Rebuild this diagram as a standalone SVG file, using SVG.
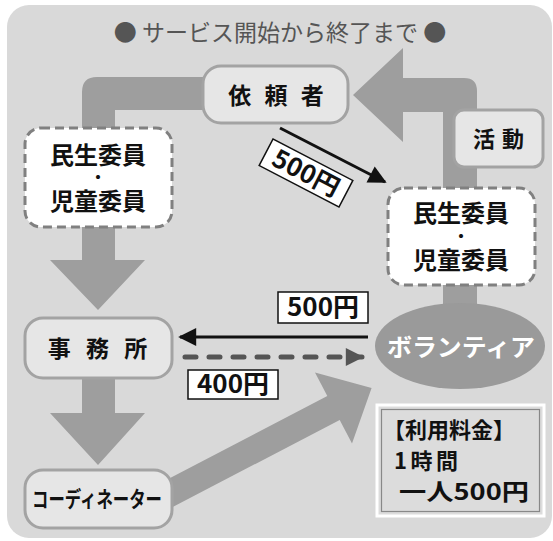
<svg xmlns="http://www.w3.org/2000/svg" width="553" height="541" viewBox="0 0 553 541">
<defs>
<style>
.t{font-family:"Noto Sans CJK JP","Noto Sans",sans-serif;font-weight:bold;fill:#111;}
.node{fill:#e6e6e6;stroke:#a3a3a3;stroke-width:3;}
.dash{fill:#ffffff;stroke:#808080;stroke-width:3;stroke-dasharray:9 5;}
.band{fill:#9e9e9e;}
.lbl{fill:#ffffff;stroke:#111;stroke-width:1.5;}
</style>
<marker id="ahb" viewBox="0 0 10 10" refX="9" refY="5" markerWidth="7" markerHeight="6" markerUnits="strokeWidth" orient="auto"><path d="M0,0 L10,5 L0,10 Z" fill="#111"/></marker>
<marker id="ahg" viewBox="0 0 10 10" refX="9" refY="5" markerWidth="4.4" markerHeight="3.6" markerUnits="strokeWidth" orient="auto"><path d="M0,0 L10,5 L0,10 Z" fill="#555"/></marker>
</defs>
<rect x="7" y="5" width="545" height="533" rx="22" fill="#d9d9d9"/>
<text x="280" y="41" text-anchor="middle" style="font-family:'Noto Sans CJK JP','Noto Sans',sans-serif;font-size:23px;fill:#555;">● サービス開始から終了まで ●</text>
<g id="connectors">
<path class="band" d="M215,77 H97 Q82,77 82,92 V140 H115 V110 H215 Z"/>
<path class="band" d="M353,95 L403,48 L403,78 H464 Q477,78 477,91 V320 H443 V112 H403 V142 Z"/>
<path class="band" d="M82,220 H115 V260 H145 L98,310 L50,260 H82 Z"/>
<path class="band" d="M82,375 H115 V413 H145 L98,465 L50,413 H82 Z"/>
<path class="band" d="M153.8,486.4 L327.3,396 L315,372.5 L371.6,388.1 L352,443.5 L339.7,420 L166.2,510.4 Z"/>
<line x1="280" y1="128" x2="385" y2="182" stroke="#111" stroke-width="3" marker-end="url(#ahb)"/>
<line x1="368" y1="337" x2="180" y2="337" stroke="#111" stroke-width="3" marker-end="url(#ahb)"/>
<line x1="185" y1="357" x2="362" y2="357" stroke="#555" stroke-width="5" stroke-linecap="round" stroke-dasharray="11 13" marker-end="url(#ahg)"/>
</g>
<g id="irainin">
<rect class="node" x="203" y="66" width="145" height="57" rx="18"/>
<text class="t" x="278" y="104" text-anchor="middle" font-size="23" letter-spacing="4">依 頼 者</text>
</g>
<g id="katsudo">
<rect class="node" x="454" y="110" width="89" height="57" rx="10"/>
<text class="t" x="499" y="147" text-anchor="middle" font-size="22" letter-spacing="1">活 動</text>
</g>
<g id="minsei-left">
<rect class="dash" x="25" y="128" width="147" height="99" rx="16"/>
<text class="t" x="98" y="164" text-anchor="middle" font-size="24">民生委員</text>
<text class="t" x="98" y="183" text-anchor="middle" font-size="16">・</text>
<text class="t" x="98" y="210" text-anchor="middle" font-size="24">児童委員</text>
</g>
<g id="minsei-right">
<rect class="dash" x="388" y="188" width="147" height="97" rx="16"/>
<text class="t" x="461" y="222" text-anchor="middle" font-size="24">民生委員</text>
<text class="t" x="461" y="242" text-anchor="middle" font-size="16">・</text>
<text class="t" x="461" y="269" text-anchor="middle" font-size="24">児童委員</text>
</g>
<g id="label500a">
<g transform="translate(306,173) rotate(27.5)">
<rect class="lbl" x="-45" y="-15" width="90" height="30"/>
<text class="t" x="0" y="9" text-anchor="middle" font-size="25" textLength="72" lengthAdjust="spacingAndGlyphs">500円</text>
</g>
</g>
<g id="jimusho">
<rect class="node" x="25" y="318" width="147" height="60" rx="18"/>
<text class="t" x="100" y="357" text-anchor="middle" font-size="23" letter-spacing="5">事 務 所</text>
</g>
<g id="label500b">
<rect class="lbl" x="278" y="292" width="90" height="31"/>
<text class="t" x="323" y="316" text-anchor="middle" font-size="25" textLength="72" lengthAdjust="spacingAndGlyphs">500円</text>
</g>
<g id="label400">
<rect class="lbl" x="188" y="370" width="90" height="29"/>
<text class="t" x="233" y="393" text-anchor="middle" font-size="25" textLength="72" lengthAdjust="spacingAndGlyphs">400円</text>
</g>
<g id="volunteer">
<ellipse cx="460" cy="346" rx="85" ry="43" fill="#9a9a9a"/>
<text class="t" x="461" y="356" text-anchor="middle" font-size="24" style="fill:#ffffff" textLength="148" lengthAdjust="spacingAndGlyphs">ボランティア</text>
</g>
<g id="coordinator">
<rect class="node" x="25" y="470" width="147" height="58" rx="18"/>
<text class="t" x="97" y="507" text-anchor="middle" font-size="22" textLength="130" lengthAdjust="spacingAndGlyphs">コーディネーター</text>
</g>
<g id="ryokin">
<rect x="377" y="405" width="167" height="111" fill="#dcdcdc" stroke="#ffffff" stroke-width="3"/>
<rect x="381.5" y="409.5" width="158" height="102" fill="none" stroke="#888" stroke-width="1.2"/>
<text class="t" x="383" y="438" font-size="22">【利用料金】</text>
<text class="t" x="394" y="469" font-size="22" textLength="64" lengthAdjust="spacing">1時間</text>
<text class="t" x="399" y="500" font-size="23" textLength="130" lengthAdjust="spacingAndGlyphs">一人500円</text>
</g>
</svg>
